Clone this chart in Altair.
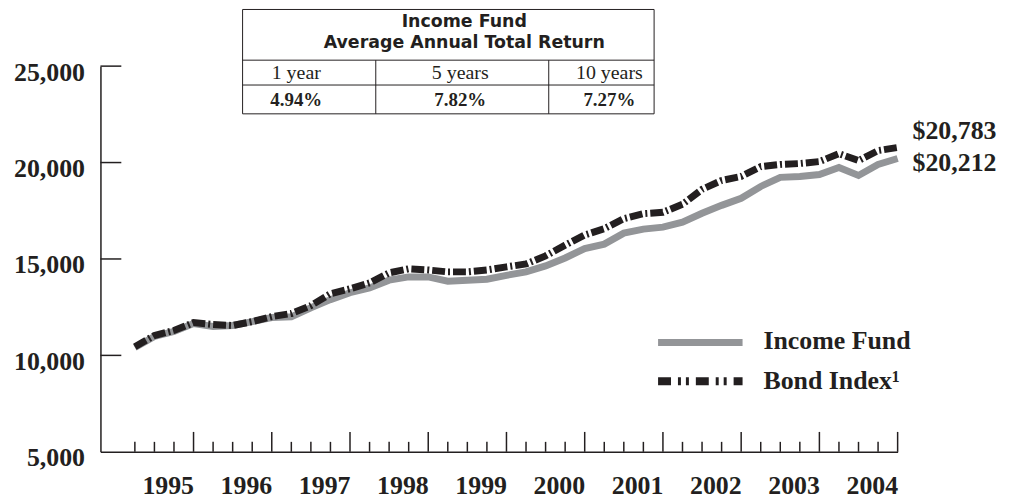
import altair as alt
import pandas as pd

# ---------------- data ----------------
quarters = list(range(1, 41))  # quarter index, 1 = Q1 1995 ... 40 = Q4 2004
income_fund = [10410, 10980, 11240, 11650, 11500, 11550, 11750, 11960, 12000, 12470,
               12890, 13250, 13500, 13900, 14070, 14070, 13850, 13900, 13950, 14150,
               14330, 14640, 15050, 15540, 15770, 16340, 16550, 16650, 16910, 17370,
               17780, 18150, 18760, 19230, 19280, 19380, 19740, 19330, 19900, 20212]
bond_index = [10450, 11030, 11290, 11700, 11600, 11550, 11750, 12010, 12170, 12580,
              13200, 13450, 13760, 14280, 14490, 14430, 14330, 14330, 14430, 14590,
              14740, 15160, 15720, 16240, 16570, 17090, 17350, 17420, 17840, 18610,
              19070, 19280, 19790, 19900, 19950, 20050, 20460, 20100, 20620, 20783]
series_names = ["Income Fund", "Bond Index\u00b9"]
y_ticks = [5000, 10000, 15000, 20000, 25000]
year_ticks = [4, 8, 12, 16, 20, 24, 28, 32, 36, 40]
first_year = 1994

table_title = ["Income Fund", "Average Annual Total Return"]
table_headers = ["1 year", "5 years", "10 years"]
table_values = ["4.94%", "7.82%", "7.27%"]

# ---------------- frames ----------------
fund_df = pd.DataFrame({"q": quarters, "value": income_fund})
bond_df = pd.DataFrame({"q": quarters, "value": bond_index})
qt_df = pd.DataFrame({"q": quarters, "major": [q % 4 == 0 for q in quarters]})
yt_df = pd.DataFrame({"value": y_ticks[1:]})
end_fund = pd.DataFrame({"q": [quarters[-1]], "value": [income_fund[-1]],
                         "label": ["$" + format(income_fund[-1], ",")]})
end_bond = pd.DataFrame({"q": [quarters[-1]], "value": [bond_index[-1]],
                         "label": ["$" + format(bond_index[-1], ",")]})
one = pd.DataFrame({"a": [0]})

INK = "#231f20"
GREY = "#939598"
SERIF = "Liberation Serif"
SANS = "DejaVu Sans"
W, H = 802, 388

xscale = alt.Scale(domain=[-0.76, 40], nice=False, zero=False)
yscale = alt.Scale(domain=[5000, 25000], nice=False, zero=False)

x_axis = alt.Axis(values=year_ticks, labelExpr=f"'' + ({first_year} + datum.value / 4)",
                  ticks=False, grid=False, domain=True, domainColor=INK, domainWidth=1.5,
                  labelFont=SERIF, labelFontWeight="bold", labelFontSize=26, labelColor=INK,
                  labelAlign="right", labelPadding=21, labelFlush=False, labelOverlap=False,
                  title=None)
y_axis = alt.Axis(values=y_ticks, format=",d", ticks=False, grid=False, domain=True,
                  domainColor=INK, domainWidth=1.5, labelFont=SERIF, labelFontWeight="bold",
                  labelFontSize=26, labelColor=INK, labelPadding=16, labelOffset=6,
                  labelFlush=False, labelOverlap=False, title=None)


def X():
    return alt.X("q:Q", scale=xscale, axis=x_axis)


def Y():
    return alt.Y("value:Q", scale=yscale, axis=y_axis)


fund_line = alt.Chart(fund_df).mark_line(color=GREY, strokeWidth=7).encode(x=X(), y=Y())
bond_line = alt.Chart(bond_df).mark_line(color=INK, strokeWidth=7,
                                         strokeDash=[13, 3, 2, 3]).encode(x=X(), y=Y())

major_ticks = alt.Chart(qt_df).transform_filter("datum.major").mark_rule(
    color=INK, strokeWidth=1.5).encode(x=X(), y=alt.value(H), y2=alt.value(H - 20))
minor_ticks = alt.Chart(qt_df).transform_filter("!datum.major").mark_rule(
    color=INK, strokeWidth=1.5).encode(x=X(), y=alt.value(H), y2=alt.value(H - 10))
y_tick_rules = alt.Chart(yt_df).mark_rule(color=INK, strokeWidth=1.5).encode(
    y=Y(), x=alt.value(0), x2=alt.value(21))

end_label_style = dict(align="left", baseline="middle", font=SERIF, fontSize=26,
                       fontWeight="bold", color=INK, dx=15)
bond_end = alt.Chart(end_bond).mark_text(dy=-17, **end_label_style).encode(
    x=X(), y=Y(), text="label:N")
fund_end = alt.Chart(end_fund).mark_text(dy=5, **end_label_style).encode(
    x=X(), y=Y(), text="label:N")


def hrule(x1, x2, y, **kw):
    return alt.Chart(one).mark_rule(**kw).encode(
        x=alt.value(x1), x2=alt.value(x2), y=alt.value(y))


def vrule(x, y1, y2, **kw):
    return alt.Chart(one).mark_rule(**kw).encode(
        x=alt.value(x), y=alt.value(y1), y2=alt.value(y2))


def label(text, x, y, font=SERIF, size=20, weight="normal", align="center", **kw):
    return alt.Chart(one).mark_text(text=text, font=font, fontSize=size, fontWeight=weight,
                                    color=INK, align=align, baseline="middle", **kw).encode(
        x=alt.value(x), y=alt.value(y))


# legend (manual)
legend_layers = [
    hrule(561, 646, 278, color=GREY, strokeWidth=7),
    hrule(561, 646, 317, color=INK, strokeWidth=8, strokeDash=[13, 7, 3, 5, 3, 7]),
    label(series_names[0], 667, 277, size=26, weight="bold", align="left"),
    label(series_names[1], 667, 317, size=26, weight="bold", align="left"),
]

# table (manual)
TL, TR, TT, TB = 143, 557, -57, 48
R1, R2 = -6, 19
C1, C2 = 277, 451
table_layers = [
    alt.Chart(one).mark_rect(fill="white", stroke=INK, strokeWidth=1).encode(
        x=alt.value(TL), x2=alt.value(TR), y=alt.value(TT), y2=alt.value(TB)),
    hrule(TL, TR, R1, color=INK, strokeWidth=1),
    hrule(TL, TR, R2, color=INK, strokeWidth=1),
    vrule(C1, R1, TB, color=INK, strokeWidth=1),
    vrule(C2, R1, TB, color=INK, strokeWidth=1),
    label(table_title[0], 366, -44, font=SANS, size=17.5, weight="bold"),
    label(table_title[1], 366, -23, font=SANS, size=17.5, weight="bold"),
]
col_centers = [197, 362, 512]
for cx, h, v in zip(col_centers, table_headers, table_values):
    table_layers.append(label(h, cx, 7, size=20))
    table_layers.append(label(v, cx, 34, size=19, weight="bold"))

chart = alt.layer(
    fund_line, bond_line, major_ticks, minor_ticks, y_tick_rules, bond_end, fund_end,
    *legend_layers, *table_layers,
).properties(
    width=W, height=H,
    autosize=alt.AutoSizeParams(type="none"),
    padding={"left": 93, "top": 57, "right": 105, "bottom": 46},
).configure_view(stroke=None)

chart.save("out.html", embed_options={"renderer": "svg", "actions": False})
